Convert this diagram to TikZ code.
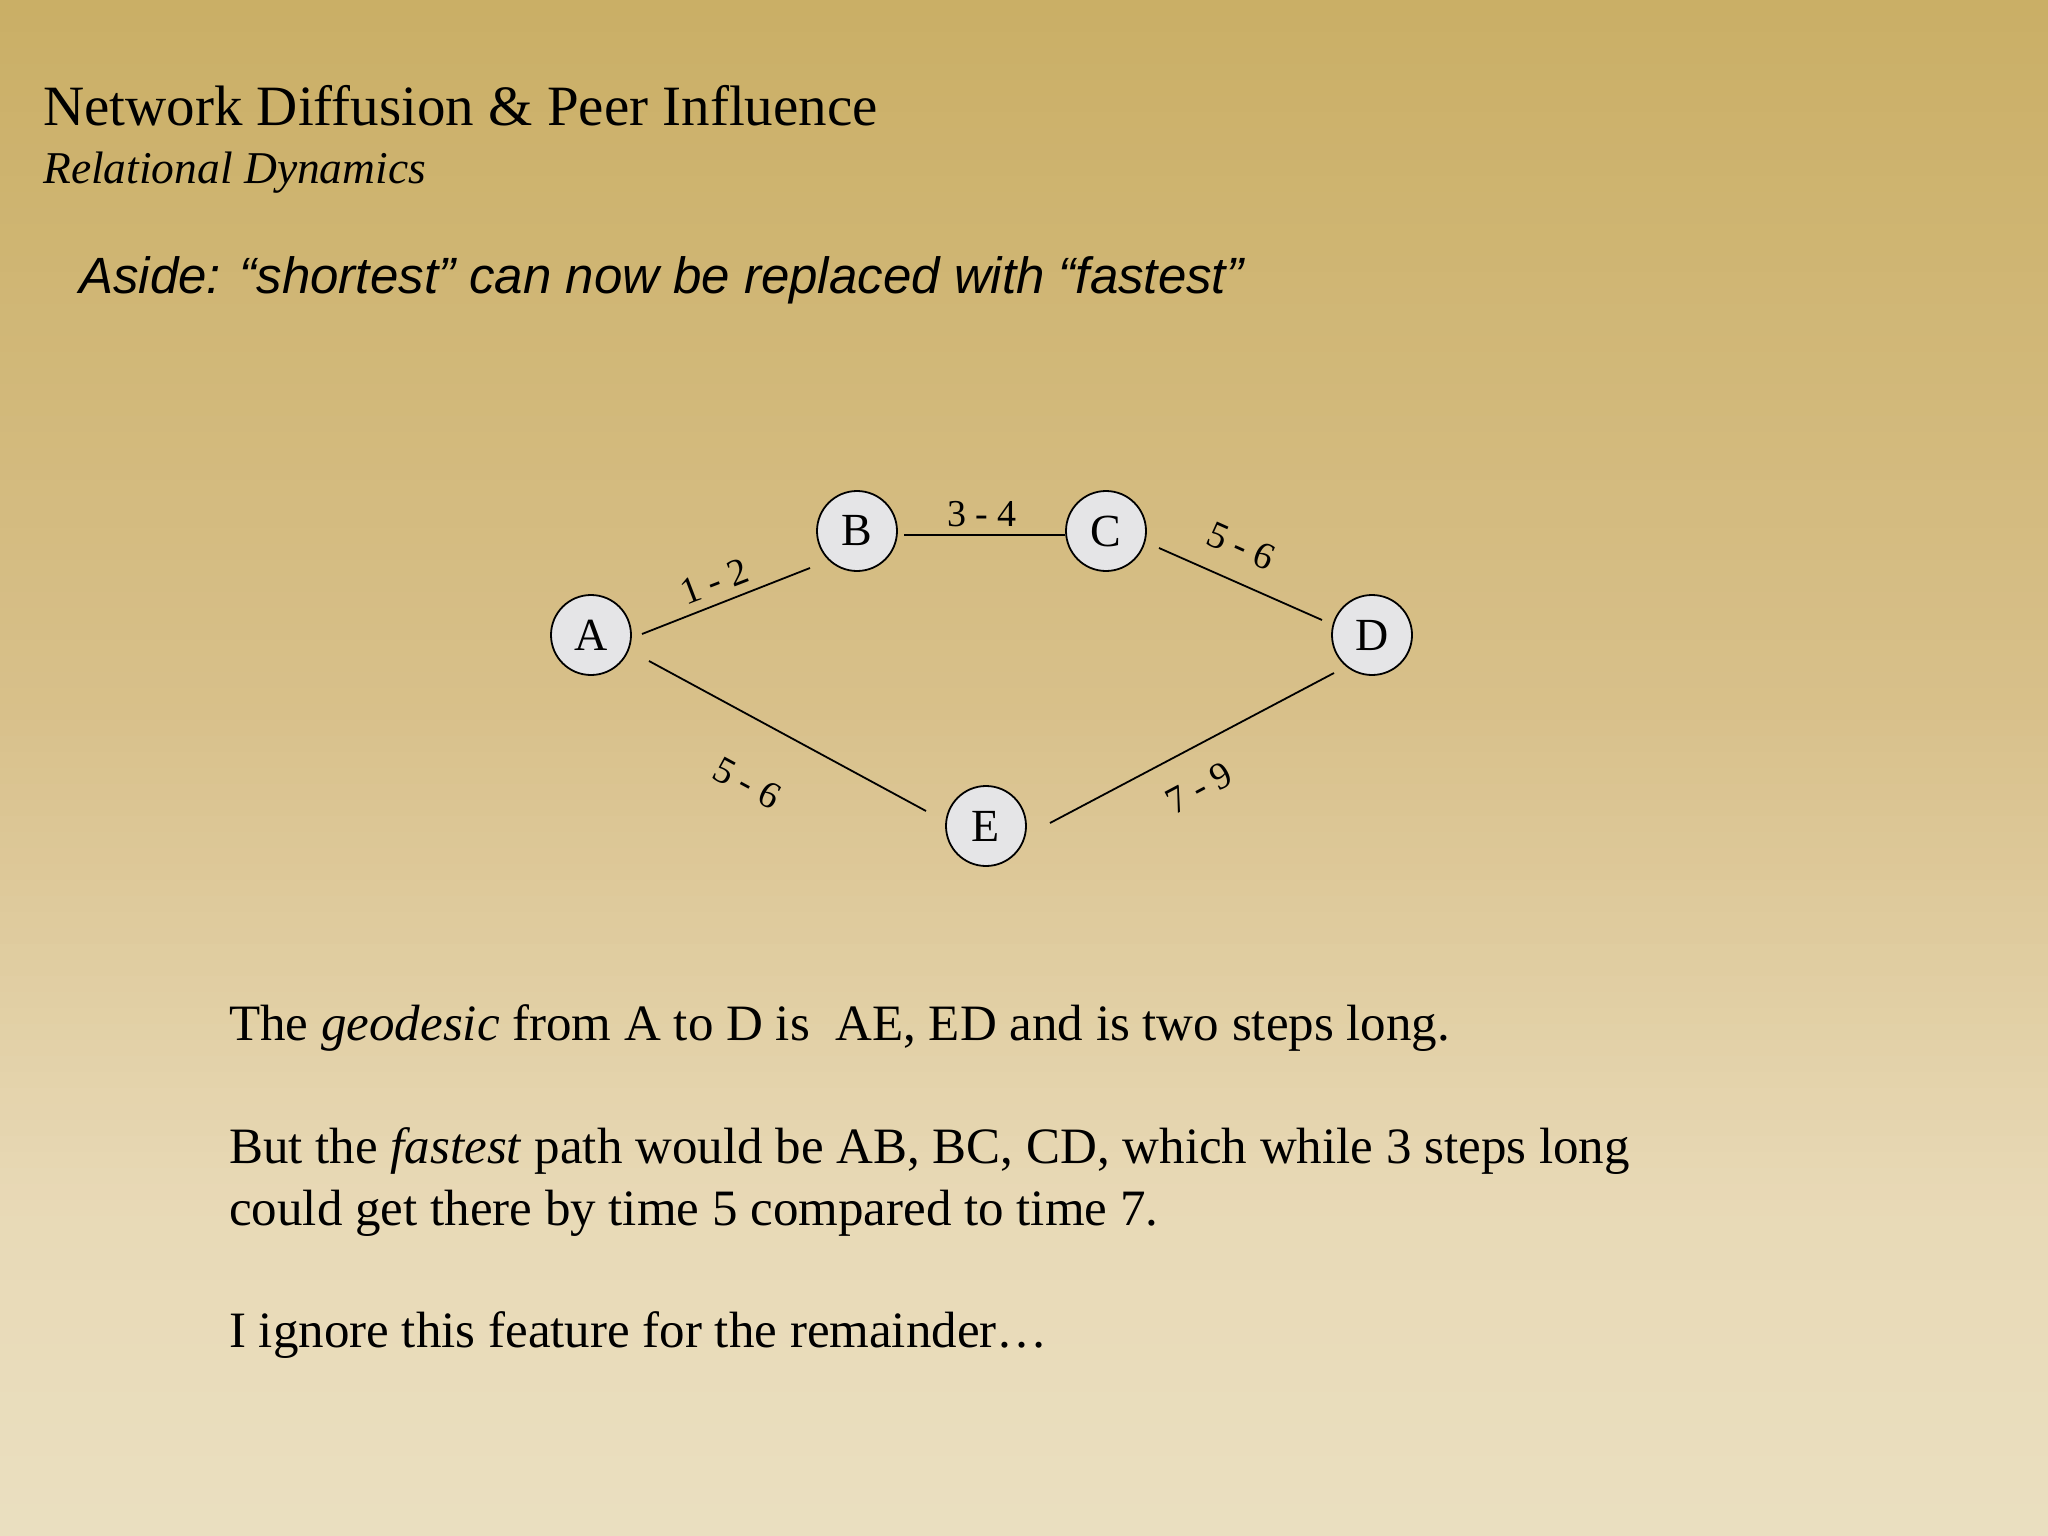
\documentclass[tikz,border=0pt]{standalone}
\usepackage{fontspec}
\setmainfont{Liberation Serif}
\newfontfamily\asidefont{Liberation Sans}
\definecolor{bgA}{RGB}{202,175,102}
\definecolor{bgB}{RGB}{216,192,138}
\definecolor{bgC}{RGB}{232,217,182}
\definecolor{bgD}{RGB}{234,223,192}
\definecolor{nodefill}{RGB}{229,229,231}
\begin{document}
\begin{tikzpicture}[x=1pt,y=-1pt,
  vtx/.style={circle,draw=black,line width=1.8pt,fill=nodefill,minimum size=80pt,inner sep=0pt,font=\fontsize{46}{46}\selectfont},
  edge/.style={line width=1.8pt,draw=black},
  elabel/.style={inner sep=0pt,font=\fontsize{38}{38}\selectfont},
  txt/.style={anchor=base west,inner sep=0pt}]
\useasboundingbox (0,0) rectangle (2048,1536);
% background gradient
\foreach \i in {0,...,43}{\pgfmathtruncatemacro\p{100*(\i+0.5)/44}\fill[bgB!\p!bgA] (0,\i*16) rectangle (2048,\i*16+17);}
\foreach \i in {0,...,30}{\pgfmathtruncatemacro\p{100*(\i+0.5)/31}\fill[bgC!\p!bgB] (0,704+\i*16) rectangle (2048,704+\i*16+17);}
\foreach \i in {0,...,20}{\pgfmathtruncatemacro\p{100*(\i+0.5)/21}\fill[bgD!\p!bgC] (0,1200+\i*16) rectangle (2048,1200+\i*16+17);}
% titles
\node[txt,font=\fontsize{57}{57}\selectfont] (title) at (43,126) {Network Diffusion \& Peer Influence};
\node[txt,font=\fontsize{45.5}{45.5}\selectfont\itshape] (sub) at (43,183) {Relational Dynamics};
\node[txt,font=\asidefont\itshape\fontsize{51}{51}\selectfont] (aside) at (79,293) {Aside: “shortest” can now be replaced with “fastest”};
% graph
\node[vtx] (A) at (591,635) {A};
\node[vtx] (B) at (857,531) {B};
\node[vtx] (C) at (1106,531) {C};
\node[vtx] (D) at (1372,635) {D};
\node[vtx] (E) at (986,826) {E};
\draw[edge] ([shift={(51,-1)}]A.center) -- ([shift={(-47,37)}]B.center);
\draw[edge] ([shift={(47,4)}]B.center) -- ([shift={(-41,4)}]C.center);
\draw[edge] ([shift={(53,17)}]C.center) -- ([shift={(-50,-15)}]D.center);
\draw[edge] ([shift={(58,26)}]A.center) -- ([shift={(-60,-15)}]E.center);
\draw[edge] ([shift={(64,-3)}]E.center) -- ([shift={(-38,38)}]D.center);
\node[elabel,rotate=21] (lab) at (714,581) {1 - 2};
\node[elabel] (lbc) at (982,514) {3 - 4};
\node[elabel,rotate=-24] (lcd) at (1241,546) {5 - 6};
\node[elabel,rotate=-28.5] (lae) at (747,783) {5 - 6};
\node[elabel,rotate=28] (led) at (1199,788) {7 - 9};
% body
\node[txt,font=\fontsize{51}{51}\selectfont] (l1) at (229,1040) {The \textit{geodesic} from A to D is\ \ AE, ED and is two steps long.};
\node[txt,font=\fontsize{51}{51}\selectfont] (l2) at (229,1163) {But the \textit{fastest} path would be AB, BC, CD, which while 3 steps long};
\node[txt,font=\fontsize{51}{51}\selectfont] (l3) at (229,1225) {could get there by time 5 compared to time 7.};
\node[txt,font=\fontsize{51}{51}\selectfont] (l4) at (229,1347) {I ignore this feature for the remainder…};
\end{tikzpicture}
\end{document}
